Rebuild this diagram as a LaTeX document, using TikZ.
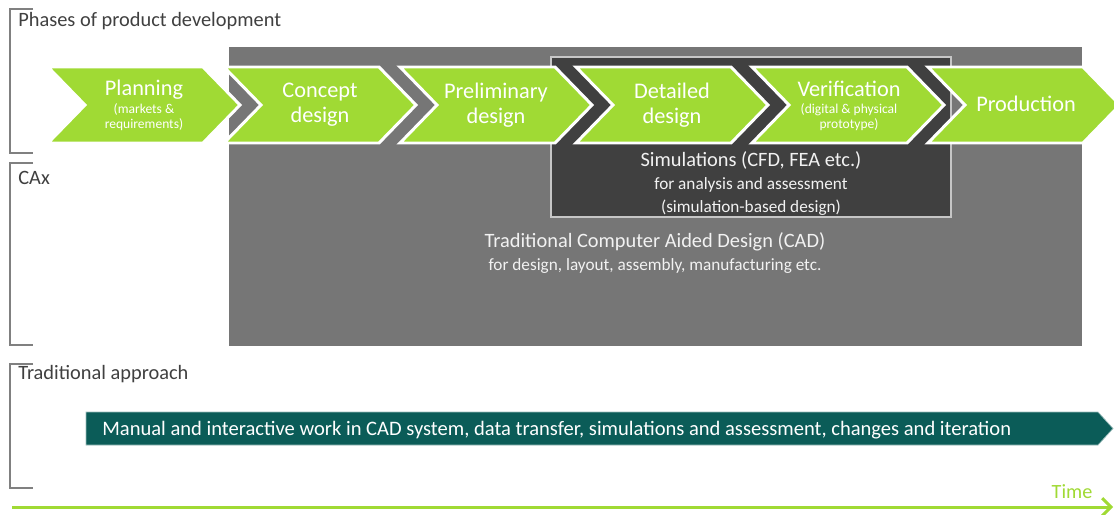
\documentclass[tikz,border=0pt]{standalone}
\usepackage{fontspec}
\setmainfont{Carlito}
\usepackage{tikz}
\usetikzlibrary{arrows.meta}
\definecolor{phasegreen}{RGB}{160,218,52}
\definecolor{caxgray}{RGB}{118,118,118}
\definecolor{simgray}{RGB}{64,64,64}
\definecolor{workteal}{RGB}{11,92,88}
\definecolor{labelgray}{RGB}{64,64,64}
\definecolor{bracketgray}{RGB}{128,128,128}
\definecolor{boxtext}{RGB}{242,242,242}

\begin{document}
\begin{tikzpicture}[x=0.02cm, y=-0.02cm,
    chev/.style={fill=phasegreen, draw=white, line width=1.7pt, line join=miter},
    phase/.style={text=white, font=\fontsize{12.7}{14.2}\selectfont, align=center, inner sep=0pt},
    phasesub/.style={text=white, font=\fontsize{7.7}{8.6}\selectfont, align=center, inner sep=0pt},
    heading/.style={text=labelgray, font=\fontsize{11.6}{13}\selectfont, anchor=west, inner sep=0pt},
    bracket/.style={draw=bracketgray, line width=0.8pt},
    boxbig/.style={text=boxtext, font=\fontsize{11.6}{13}\selectfont, inner sep=0pt},
    boxsmall/.style={text=boxtext, font=\fontsize{9.8}{11}\selectfont, inner sep=0pt}]
			\useasboundingbox (0,0) rectangle (1114,514);
			\fill[white] (0,0) rectangle (1114,514);

			\draw[bracket] (33,9) -- (10,9) -- (10,153) -- (33,153);
			\draw[bracket] (33,163) -- (10,163) -- (10,345) -- (33,345);
			\draw[bracket] (33,364) -- (10,364) -- (10,488) -- (33,488);
			\node[heading] (hphases) at (18,21) {Phases of product development};
			\node[heading] (hcax) at (18,178) {CAx};
			\node[heading] (htrad) at (18,374) {Traditional approach};

			\fill[caxgray] (229,47) rectangle (1082,346);
			\draw[fill=simgray, draw=gray!45, line width=0.6pt] (551,57) rectangle (951,217);

			\foreach \l [count=\i] in {48,224,400,576,752,928} {
   \draw[chev] (\l,67) -- ++(155,0) -- ++(37,38) -- ++(-37,38) -- ++(-155,0) -- ++(37,-38) -- cycle;
   \coordinate (c\i) at (\l+96,105);
}

			\node[phase] (plan) at (144,90) {Planning};
			\node[phasesub] (plansub) at (144,117) {(markets \&\\requirements)};
			\node[phase] (concept) at (c2) {Concept\\design};
			\node[phase] (prelim) at (c3) {Preliminary\\design};
			\node[phase] (detail) at (c4) {Detailed\\design};
			\node[phase] (verif) at (849,89) {Verification};
			\node[phasesub] (verifsub) at (849,117) {(digital \& physical\\prototype)};
			\node[phase] (prod) at (1026,104) {Production};

			\node[boxbig] (sim) at (751,160) {Simulations (CFD, FEA etc.)};
			\node[boxsmall] (simfor) at (751,185) {for analysis and assessment};
			\node[boxsmall] (simbased) at (751,208) {(simulation-based design)};
			\node[boxbig] (cad) at (655,242) {Traditional Computer Aided Design (CAD)};
			\node[boxsmall] (cadfor) at (655,266) {for design, layout, assembly, manufacturing etc.};

			\draw[fill=workteal, draw=workteal!40!white, line width=0.4pt] (86,412) -- (1098,412) -- (1113,428.5) -- (1098,445) -- (86,445) -- cycle;
			\node[text=white, font=\fontsize{11.7}{13}\selectfont, anchor=west, inner sep=0pt] (work) at (102,430) {Manual and interactive work in CAD system, data transfer, simulations and assessment, changes and iteration};

			\coordinate (tstart) at (12,507);
			\coordinate (tend) at (1113,507);
			\draw[phasegreen, line width=1.7pt, -{Straight Barb[length=5pt, width=10pt]}] (tstart) -- (tend);
			\node[text=phasegreen, font=\fontsize{11.5}{13}\selectfont, inner sep=0pt] (time) at (1072,492) {Time};

		\end{tikzpicture}
\end{document}
